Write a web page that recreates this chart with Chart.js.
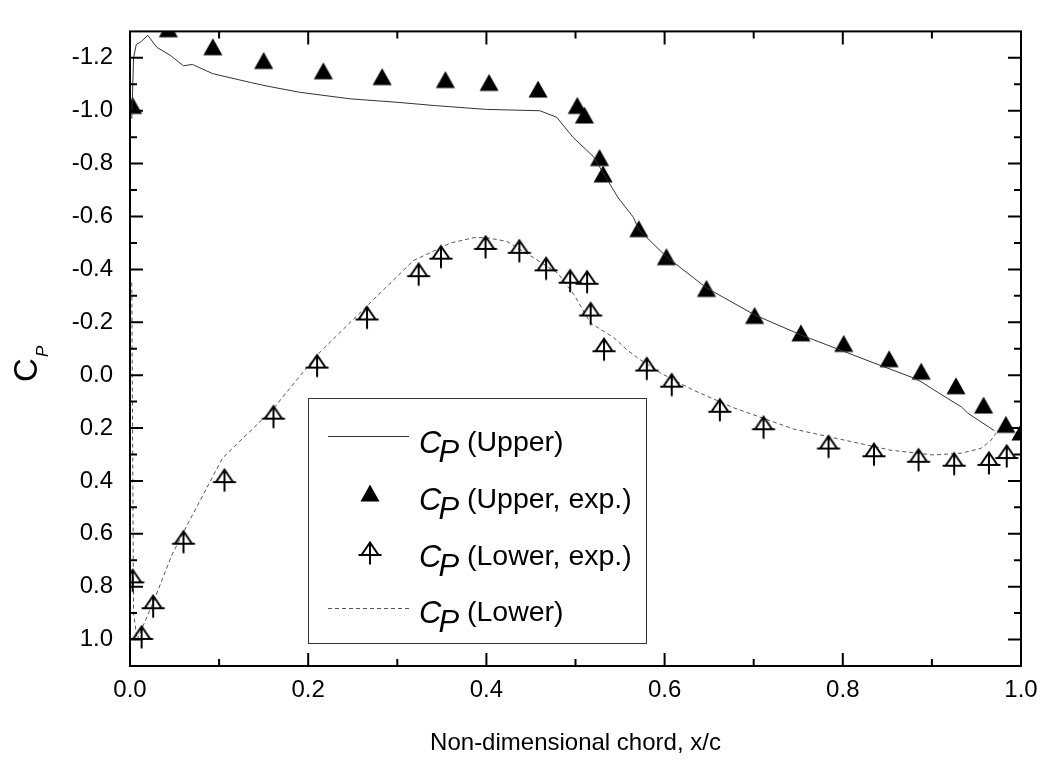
<!DOCTYPE html>
<html>
<head>
<meta charset="utf-8">
<title>Cp distribution</title>
<script src="https://cdn.jsdelivr.net/npm/chart.js@4.4.1/dist/chart.umd.min.js"></script>
<style>
  body { margin: 0; background: #fff; }
  #wrap { width: 1051px; height: 763px; }
</style>
</head>
<body>
<div id="wrap"><canvas id="cp-chart" width="1051" height="763"></canvas></div>
<script>
// Pressure coefficient along the chord, computed and measured

// computed, upper surface
var xUpper = [0.002, 0.004, 0.007, 0.012, 0.02, 0.03, 0.045, 0.06, 0.07, 0.093, 0.135, 0.154, 0.19, 0.247, 0.303, 0.34, 0.4, 0.46, 0.479, 0.497, 0.52, 0.548, 0.565, 0.571, 0.602, 0.647, 0.701, 0.753, 0.801, 0.845, 0.879, 0.888, 0.907, 0.933, 0.94, 0.97];
var cpUpper = [-0.97, -1.2, -1.25, -1.26, -1.285, -1.24, -1.21, -1.17, -1.175, -1.14, -1.107, -1.093, -1.07, -1.045, -1.031, -1.02, -1.005, -1.0, -0.975, -0.9, -0.827, -0.67, -0.597, -0.55, -0.448, -0.33, -0.228, -0.152, -0.09, -0.033, 0.01, 0.025, 0.066, 0.12, 0.143, 0.21];

// measured, upper surface
var xUpperExp = [0.003, 0.043, 0.093, 0.15, 0.217, 0.283, 0.354, 0.403, 0.458, 0.502, 0.51, 0.527, 0.531, 0.571, 0.602, 0.647, 0.701, 0.753, 0.801, 0.852, 0.888, 0.927, 0.958, 0.983, 1.0];
var cpUpperExp = [-1.02, -1.31, -1.242, -1.19, -1.151, -1.129, -1.118, -1.107, -1.082, -1.02, -0.984, -0.823, -0.761, -0.554, -0.448, -0.328, -0.226, -0.16, -0.12, -0.062, -0.015, 0.04, 0.113, 0.186, 0.215];

// measured, lower surface
var xLowerExp = [0.003, 0.013, 0.026, 0.06, 0.106, 0.161, 0.21, 0.266, 0.324, 0.349, 0.399, 0.437, 0.467, 0.494, 0.513, 0.517, 0.532, 0.58, 0.608, 0.662, 0.711, 0.784, 0.835, 0.885, 0.925, 0.964, 0.984];
var cpLowerExp = [0.776, 0.99, 0.874, 0.63, 0.397, 0.157, -0.036, -0.218, -0.382, -0.448, -0.485, -0.47, -0.404, -0.357, -0.353, -0.233, -0.098, -0.025, 0.036, 0.131, 0.197, 0.27, 0.299, 0.32, 0.335, 0.332, 0.306];

// computed, lower surface
var xLower = [0.002, 0.004, 0.008, 0.026, 0.047, 0.064, 0.104, 0.16, 0.21, 0.266, 0.318, 0.36, 0.386, 0.4, 0.423, 0.453, 0.48, 0.498, 0.517, 0.543, 0.558, 0.571, 0.596, 0.633, 0.678, 0.745, 0.809, 0.854, 0.902, 0.933, 0.955, 0.966, 0.972];
var cpLower = [-0.35, 0.9, 1.0, 0.86, 0.68, 0.568, 0.313, 0.13, -0.076, -0.262, -0.433, -0.5, -0.52, -0.52, -0.506, -0.444, -0.386, -0.306, -0.197, -0.142, -0.095, -0.062, -0.007, 0.058, 0.124, 0.204, 0.251, 0.284, 0.302, 0.295, 0.277, 0.248, 0.219];

var xTicks = [0, 0.2, 0.4, 0.6, 0.8, 1.0];
var yTicks = [-1.2, -1.0, -0.8, -0.6, -0.4, -0.2, 0, 0.2, 0.4, 0.6, 0.8, 1.0];
var legendLabels = ['(Upper)', '(Upper, exp.)', '(Lower, exp.)', '(Lower)'];

var FONT = '"Liberation Sans", Arial, sans-serif';

function pairs(xs, ys) {
  return xs.map(function (x, i) { return { x: x, y: ys[i] }; });
}

// solid black triangle marker
function filledTriangle() {
  var c = document.createElement('canvas');
  c.width = 22; c.height = 20;
  var g = c.getContext('2d');
  g.fillStyle = '#000';
  g.beginPath();
  g.moveTo(11, 1.5);
  g.lineTo(20.5, 18.5);
  g.lineTo(1.5, 18.5);
  g.closePath();
  g.fill();
  return c;
}

// open triangle with a cross through it
function crossTriangle() {
  var c = document.createElement('canvas');
  c.width = 26; c.height = 26;
  var g = c.getContext('2d');
  g.strokeStyle = '#000';
  g.lineWidth = 2;
  g.lineJoin = 'miter';
  g.beginPath();
  g.moveTo(13, 2.5);
  g.lineTo(21.5, 15);
  g.lineTo(4.5, 15);
  g.closePath();
  g.moveTo(1.5, 15); g.lineTo(24.5, 15);
  g.moveTo(13, 2.5); g.lineTo(13, 24.5);
  g.stroke();
  return c;
}

var triFilled = filledTriangle();
var triCross = crossTriangle();

// inward ticks, the box frame, the y title and the legend box
var frameAndLegend = {
  id: 'frameAndLegend',
  afterDatasetsDraw: function (chart) {
    var ctx = chart.ctx;
    var a = chart.chartArea;
    var xs = chart.scales.x, ys = chart.scales.y;
    ctx.save();
    ctx.strokeStyle = '#000';
    ctx.lineWidth = 2;
    ctx.strokeRect(a.left, a.top, a.right - a.left, a.bottom - a.top);

    ctx.beginPath();
    xTicks.forEach(function (v, i) {
      var px = xs.getPixelForValue(v);
      ctx.moveTo(px, a.bottom); ctx.lineTo(px, a.bottom - 13);
      ctx.moveTo(px, a.top); ctx.lineTo(px, a.top + 13);
      if (i < xTicks.length - 1) {
        var mx = xs.getPixelForValue((v + xTicks[i + 1]) / 2);
        ctx.moveTo(mx, a.bottom); ctx.lineTo(mx, a.bottom - 7);
        ctx.moveTo(mx, a.top); ctx.lineTo(mx, a.top + 7);
      }
    });
    yTicks.forEach(function (v, i) {
      var py = ys.getPixelForValue(v);
      ctx.moveTo(a.left, py); ctx.lineTo(a.left + 13, py);
      ctx.moveTo(a.right, py); ctx.lineTo(a.right - 13, py);
      var next = i < yTicks.length - 1 ? (v + yTicks[i + 1]) / 2 : null;
      if (next !== null) {
        var my = ys.getPixelForValue(next);
        ctx.moveTo(a.left, my); ctx.lineTo(a.left + 7, my);
        ctx.moveTo(a.right, my); ctx.lineTo(a.right - 7, my);
      }
    });
    // minor ticks just inside the ends of the y range
    [yTicks[0] - 0.1, yTicks[yTicks.length - 1] + 0.1].forEach(function (v) {
      var my = ys.getPixelForValue(v);
      if (my > a.top + 1 && my < a.bottom - 1) {
        ctx.moveTo(a.left, my); ctx.lineTo(a.left + 7, my);
        ctx.moveTo(a.right, my); ctx.lineTo(a.right - 7, my);
      }
    });
    ctx.stroke();

    // y axis title: C with subscript P
    ctx.fillStyle = '#000';
    ctx.translate(37, 366);
    ctx.rotate(-Math.PI / 2);
    ctx.font = '33px ' + FONT;
    ctx.textBaseline = 'alphabetic';
    var wC = ctx.measureText('C').width;
    ctx.fillText('C', -wC / 2 - 4, 0);
    ctx.font = 'italic 17px ' + FONT;
    ctx.fillText('P', wC / 2 - 3, 11);
    ctx.restore();

    // legend
    ctx.save();
    var bx = 308, by = 398, bw = 338, bh = 245;
    ctx.fillStyle = '#fff';
    ctx.fillRect(bx, by, bw, bh);
    ctx.strokeStyle = '#333';
    ctx.lineWidth = 1;
    ctx.strokeRect(bx + 0.5, by + 0.5, bw, bh);

    var rows = [453, 510, 567, 623];
    var sampleMid = [436, 493, 553, 608];

    ctx.strokeStyle = chart.data.datasets[0].borderColor;
    ctx.beginPath();
    ctx.moveTo(328, sampleMid[0] + 0.5); ctx.lineTo(409, sampleMid[0] + 0.5);
    ctx.stroke();
    ctx.drawImage(triFilled, 370 - triFilled.width / 2, sampleMid[1] - triFilled.height / 2);
    ctx.drawImage(triCross, 370 - triCross.width / 2, sampleMid[2] - triCross.height / 2);
    ctx.strokeStyle = chart.data.datasets[3].borderColor;
    ctx.setLineDash(chart.data.datasets[3].borderDash);
    ctx.beginPath();
    ctx.moveTo(328, sampleMid[3] + 0.5); ctx.lineTo(409, sampleMid[3] + 0.5);
    ctx.stroke();
    ctx.setLineDash([]);

    ctx.fillStyle = '#000';
    rows.forEach(function (base, i) {
      ctx.font = 'italic 31px ' + FONT;
      ctx.fillText('C', 419, base);
      var w = ctx.measureText('C').width;
      ctx.fillText('P', 419 + w - 3, base + 9);
      ctx.font = '28.5px ' + FONT;
      ctx.fillText(legendLabels[i], 467, base - 2);
    });
    ctx.restore();
  }
};

Chart.defaults.font.family = FONT;
Chart.defaults.color = '#000';

new Chart(document.getElementById('cp-chart'), {
  type: 'scatter',
  data: {
    datasets: [
      {
        label: 'Cp (Upper)',
        data: pairs(xUpper, cpUpper),
        showLine: true,
        borderColor: '#333',
        borderWidth: 1,
        pointRadius: 0,
        clip: 0
      },
      {
        label: 'Cp (Upper, exp.)',
        data: pairs(xUpperExp, cpUpperExp),
        pointStyle: triFilled,
        pointRadius: 10,
        clip: 0
      },
      {
        label: 'Cp (Lower, exp.)',
        data: pairs(xLowerExp, cpLowerExp),
        pointStyle: triCross,
        pointRadius: 10,
        clip: 0
      },
      {
        label: 'Cp (Lower)',
        data: pairs(xLower, cpLower),
        showLine: true,
        borderColor: '#555',
        borderWidth: 1,
        borderDash: [4, 3],
        pointRadius: 0,
        clip: 0
      }
    ]
  },
  options: {
    responsive: false,
    animation: false,
    events: [],
    layout: { padding: { top: 8, right: 30, left: 0, bottom: 0 } },
    plugins: {
      legend: { display: false },
      tooltip: { enabled: false }
    },
    scales: {
      x: {
        type: 'linear',
        min: 0,
        max: 1,
        grid: { display: false, drawTicks: false },
        border: { display: false },
        afterBuildTicks: function (scale) {
          scale.ticks = xTicks.map(function (v) { return { value: v }; });
        },
        afterFit: function (scale) { scale.height = 97; },
        ticks: {
          padding: 10,
          font: { size: 24 },
          callback: function (v) { return Number(v).toFixed(1); }
        },
        title: {
          display: true,
          text: 'Non-dimensional chord, x/c',
          font: { size: 24 },
          padding: { top: 0, bottom: 5 }
        }
      },
      y: {
        type: 'linear',
        reverse: true,
        min: -1.3,
        max: 1.1,
        grid: { display: false, drawTicks: false },
        border: { display: false },
        afterBuildTicks: function (scale) {
          scale.ticks = yTicks.map(function (v) { return { value: v }; });
        },
        afterFit: function (scale) { scale.width = 130; },
        ticks: {
          padding: 17,
          font: { size: 24 },
          callback: function (v) { return Number(v).toFixed(1); }
        }
      }
    }
  },
  plugins: [frameAndLegend]
});
</script>
</body>
</html>
